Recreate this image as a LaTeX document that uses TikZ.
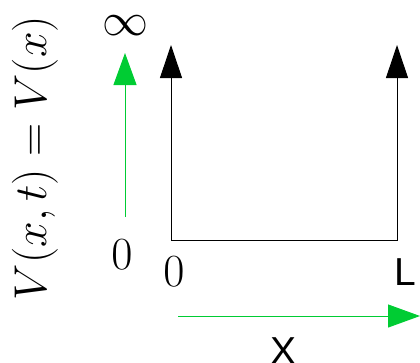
\RequirePackage{fix-cm}
\documentclass[tikz,border=0pt]{standalone}
\usepackage{fontspec}
\newfontfamily\labelsans{Liberation Sans}
\usetikzlibrary{arrows.meta}
\definecolor{axisgreen}{RGB}{0,204,51}
\begin{document}
\begin{tikzpicture}[x=1pt,y=-1pt,
  wall/.style={draw=black, line width=1pt,
    {Triangle[length=33pt,width=22pt]}-{Triangle[length=33pt,width=22pt]}},
  axis/.style={draw=axisgreen, line width=1pt,
    -{Triangle[length=32pt,width=23pt]}, axisgreen},
  mathlbl/.style={inner sep=0pt, font=\fontsize{46}{50}\selectfont},
  sanslbl/.style={inner sep=0pt, font=\fontsize{39}{44}\selectfont\labelsans}]
\useasboundingbox (0,0) rectangle (420,362);

% infinite square well
\coordinate (tl) at (171,45);
\coordinate (bl) at (171,240.5);
\coordinate (br) at (397,240.5);
\coordinate (tr) at (397,45);
\draw[wall] (tl) -- (bl) -- (br) -- (tr);

% potential axis
\coordinate (vlow) at (125,217);
\coordinate (vhigh) at (125,53);
\draw[axis] (vlow) -- (vhigh);

% position axis
\coordinate (xlow) at (178,316);
\coordinate (xhigh) at (420,316);
\draw[axis] (xlow) -- (xhigh);

% labels
\node[mathlbl] (inf) at (125,26) {$\infty$};
\node[mathlbl] (vzero) at (122,255) {$0$};
\node[mathlbl] (xzero) at (174,272) {$0$};
\node[sanslbl, anchor=north] (ell) at (405,258) {L};
\node[sanslbl, anchor=north] (xname) at (284,337) {X};
\node[mathlbl, rotate=90] (vlabel) at (35,158) {$V(x,t)=V(x)$};
\end{tikzpicture}
\end{document}
